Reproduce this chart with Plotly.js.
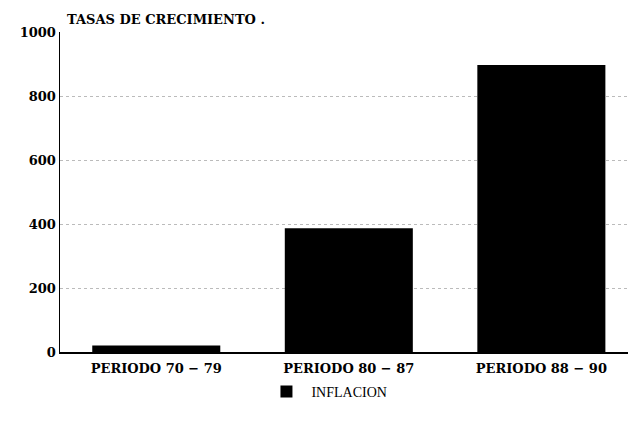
<!DOCTYPE html>
<html><head><meta charset="utf-8">
<script src="https://cdn.plot.ly/plotly-3.0.1.min.js"></script>
<style>html,body{margin:0;padding:0;background:#fff;}</style>
</head><body>
<div id="chart" style="width:628px;height:428px;"></div>
<script>
var categories = ["PERIODO 70 − 79", "PERIODO 80 − 87", "PERIODO 88 − 90"];
var inflacion = [20, 387, 897];
var yTicks = [0, 200, 400, 600, 800, 1000];
var seriesName = "INFLACION";

var serif = "DejaVu Serif";

Plotly.newPlot("chart", [{
  type: "bar",
  x: categories,
  y: inflacion,
  name: seriesName,
  marker: {color: "#000", line: {width: 0}},
  width: 0.665,
  showlegend: true
}], {
  width: 628, height: 428,
  margin: {l: 60, r: 0, t: 32, b: 76},
  paper_bgcolor: "#fff", plot_bgcolor: "#fff",
  font: {family: serif, color: "#000", size: 13},
  title: {text: "<b>TASAS DE CRECIMIENTO .</b>", x: 0, xref: "paper", xanchor: "left", y: 0.955, yanchor: "middle", font: {family: serif, size: 13, color: "#000"}, pad: {l: 7}},
  xaxis: {
    type: "category", range: [-0.5, 2.45],
    showline: true, linecolor: "#000", linewidth: 1.5,
    ticks: "", showgrid: false,
    tickfont: {family: serif, size: 13, color: "#000", weight: "bold"},
    ticklabelstandoff: 4
  },
  yaxis: {
    range: [0, 1000], tickvals: yTicks, ticktext: yTicks.map(String),
    showline: true, linecolor: "#000", linewidth: 1.5,
    ticks: "", showgrid: true, gridcolor: "#bbb", griddash: "dot", gridwidth: 1,
    zeroline: false,
    tickfont: {family: serif, size: 13, color: "#000", weight: "bold"}
  },
  legend: {orientation: "h", x: 0.47, xanchor: "center", y: -0.075, yanchor: "top",
    itemwidth: 40,
    font: {family: "Liberation Serif", size: 14, color: "#000"}},
  bargap: 0.3
}, {displayModeBar: false, staticPlot: true});
</script>
</body></html>
